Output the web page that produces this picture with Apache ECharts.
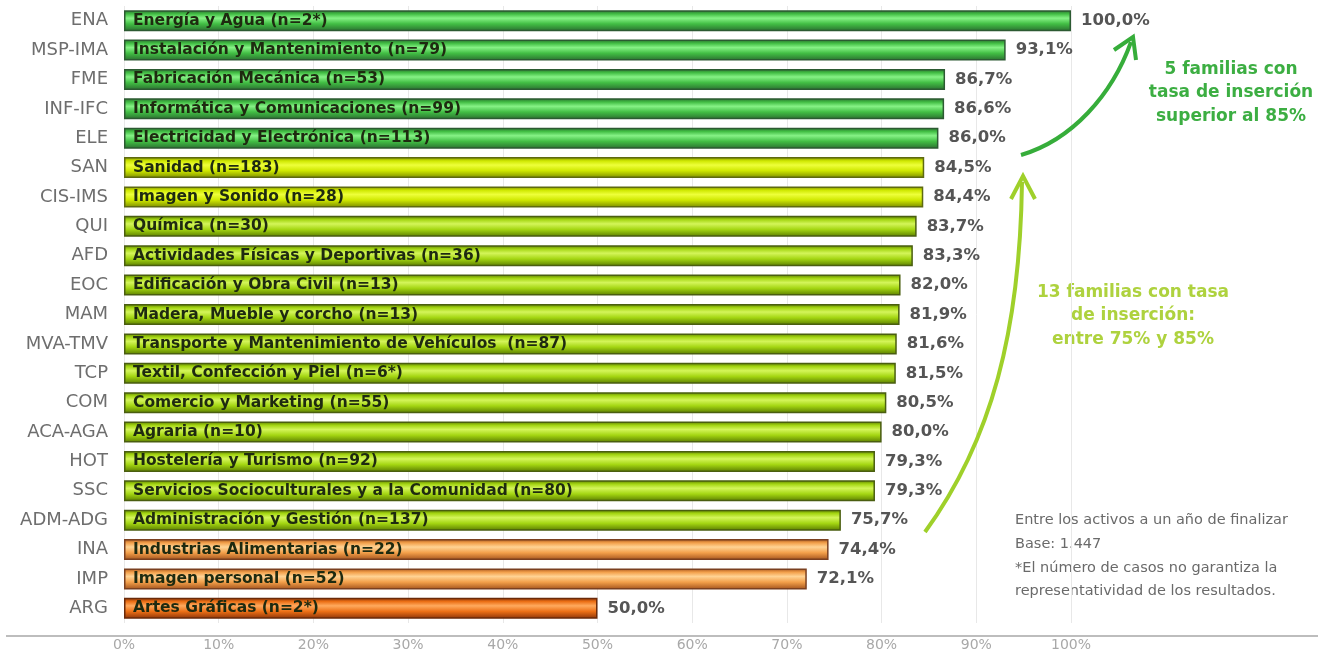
<!DOCTYPE html>
<html>
<head>
<meta charset="utf-8">
<script src="https://cdn.jsdelivr.net/npm/echarts@6/dist/echarts.min.js"></script>
<style>
html,body{margin:0;padding:0;background:#fff;}
#chart{width:1318px;height:652px;}
</style>
</head>
<body>
<div id="chart"></div>
<script>
const codes = ['ENA','MSP-IMA','FME','INF-IFC','ELE','SAN','CIS-IMS','QUI','AFD','EOC','MAM','MVA-TMV','TCP','COM','ACA-AGA','HOT','SSC','ADM-ADG','INA','IMP','ARG'];
const families = ['Energía y Agua (n=2*)','Instalación y Mantenimiento (n=79)','Fabricación Mecánica (n=53)','Informática y Comunicaciones (n=99)','Electricidad y Electrónica (n=113)','Sanidad (n=183)','Imagen y Sonido (n=28)','Química (n=30)','Actividades Físicas y Deportivas (n=36)','Edificación y Obra Civil (n=13)','Madera, Mueble y corcho (n=13)','Transporte y Mantenimiento de Vehículos  (n=87)','Textil, Confección y Piel (n=6*)','Comercio y Marketing (n=55)','Agraria (n=10)','Hostelería y Turismo (n=92)','Servicios Socioculturales y a la Comunidad (n=80)','Administración y Gestión (n=137)','Industrias Alimentarias (n=22)','Imagen personal (n=52)','Artes Gráficas (n=2*)'];
const values = [100.0, 93.1, 86.7, 86.6, 86.0, 84.5, 84.4, 83.7, 83.3, 82.0, 81.9, 81.6, 81.5, 80.5, 80.0, 79.3, 79.3, 75.7, 74.4, 72.1, 50.0];
const tiers = ['green','green','green','green','green','yellow','yellow','lime','lime','lime','lime','lime','lime','lime','lime','lime','lime','lime','orange','orange','darkorange'];
const xTicks = [0,10,20,30,40,50,60,70,80,90,100];

const FONT = 'DejaVu Sans, Arial, sans-serif';
const palette = {
  green:      {dark:'#2a6e30', mid:'#42be44', light:'#86f286', border:'#2c5a32'},
  yellow:     {dark:'#7a8a00', mid:'#cfe800', light:'#eeff3a', border:'#5e6a10'},
  lime:       {dark:'#5a7c00', mid:'#a4d612', light:'#d4f55a', border:'#4a5e10'},
  orange:     {dark:'#a2521c', mid:'#f3a04a', light:'#ffd394', border:'#7a4020'},
  darkorange: {dark:'#8a3208', mid:'#ec7016', light:'#ffaa5e', border:'#6a2a0a'}
};
function styleFor(t){
  const p = palette[t];
  return {
    color: new echarts.graphic.LinearGradient(0,0,0,1,[
      {offset:0, color:p.dark},
      {offset:0.18, color:p.mid},
      {offset:0.38, color:p.light},
      {offset:0.65, color:p.mid},
      {offset:1, color:p.dark}
    ]),
    borderColor: p.border,
    borderWidth: 1.5
  };
}
function fmt(v){ return v.toFixed(1).replace('.', ',') + '%'; }

const chart = echarts.init(document.getElementById('chart'), null, {renderer:'canvas'});
const note = (y, t) => ({type:'text', x:1015, y:y, style:{text:t, fill:'#6a6a6a', font:'14.5px ' + FONT, verticalAlign:'middle'}});
const ann = (x, y, t, c) => ({type:'text', x:x, y:y, style:{text:t, fill:c, font:'bold 17px ' + FONT, align:'center', verticalAlign:'middle'}});
const option = {
  animation:false,
  backgroundColor:'#fff',
  grid:{left:124, right:247, top:6, bottom:29, containLabel:false},
  xAxis:{
    type:'value', min:xTicks[0], max:xTicks[xTicks.length-1], interval:10,
    axisLine:{show:false}, axisTick:{show:false},
    splitLine:{show:true, lineStyle:{color:'#e8e8e8', width:1}},
    axisLabel:{formatter:'{value}%', color:'#a8a8a8', fontSize:14, fontFamily:FONT, margin:15}
  },
  yAxis:{
    type:'category', data:codes, inverse:true,
    axisLine:{show:false}, axisTick:{show:false},
    axisLabel:{color:'#6e6e6e', fontSize:18, fontFamily:FONT, margin:16}
  },
  series:[
    {
      type:'bar', barWidth:21,
      data: values.map((v,i)=>({value:v, itemStyle:styleFor(tiers[i])})),
      label:{show:true, position:'right', distance:10, formatter:p=>fmt(p.value),
        color:'#555', fontSize:16.5, fontWeight:'bold', fontFamily:FONT}
    },
    {
      type:'bar', barWidth:21, barGap:'-100%', z:3,
      data: values.map((v,i)=>({value:v, name:families[i]})),
      itemStyle:{color:'rgba(0,0,0,0)'},
      label:{show:true, position:'insideLeft', distance:9, formatter:p=>families[p.dataIndex],
        color:'#1e2a10', fontSize:15.5, fontWeight:'bold', fontFamily:FONT}
    }
  ],
  graphic:[
    {type:'line', shape:{x1:6, y1:636, x2:1318, y2:636}, style:{stroke:'#bdbdbd', lineWidth:2}, z:1},
    {type:'bezierCurve', shape:{x1:1021, y1:155, cpx1:1072, cpy1:140, cpx2:1112, cpy2:95, x2:1131, y2:42},
      style:{stroke:'#36ad3a', lineWidth:4, fill:null}, z:10},
    {type:'polyline', shape:{points:[[1114,50],[1133,37],[1136,60]]},
      style:{stroke:'#36ad3a', lineWidth:4, fill:null, lineJoin:'miter'}, z:10},
    {type:'bezierCurve', shape:{x1:925, y1:532, cpx1:992, cpy1:440, cpx2:1020, cpy2:330, x2:1022, y2:182},
      style:{stroke:'#9fd02a', lineWidth:4, fill:null}, z:10},
    {type:'polyline', shape:{points:[[1011,199],[1023,176],[1035,199]]},
      style:{stroke:'#9fd02a', lineWidth:4, fill:null, lineJoin:'miter'}, z:10},
    ann(1231, 70, '5 familias con', '#3cae42'),
    ann(1231, 93, 'tasa de inserción', '#3cae42'),
    ann(1231, 117, 'superior al 85%', '#3cae42'),
    ann(1133, 293, '13 familias con tasa', '#aed23e'),
    ann(1133, 316, 'de inserción:', '#aed23e'),
    ann(1133, 340, 'entre 75% y 85%', '#aed23e'),
    note(520, 'Entre los activos a un año de finalizar'),
    note(544, 'Base: 1.447'),
    note(568, '*El número de casos no garantiza la'),
    note(591, 'representatividad de los resultados.')
  ]
};
chart.setOption(option);
</script>
</body>
</html>
